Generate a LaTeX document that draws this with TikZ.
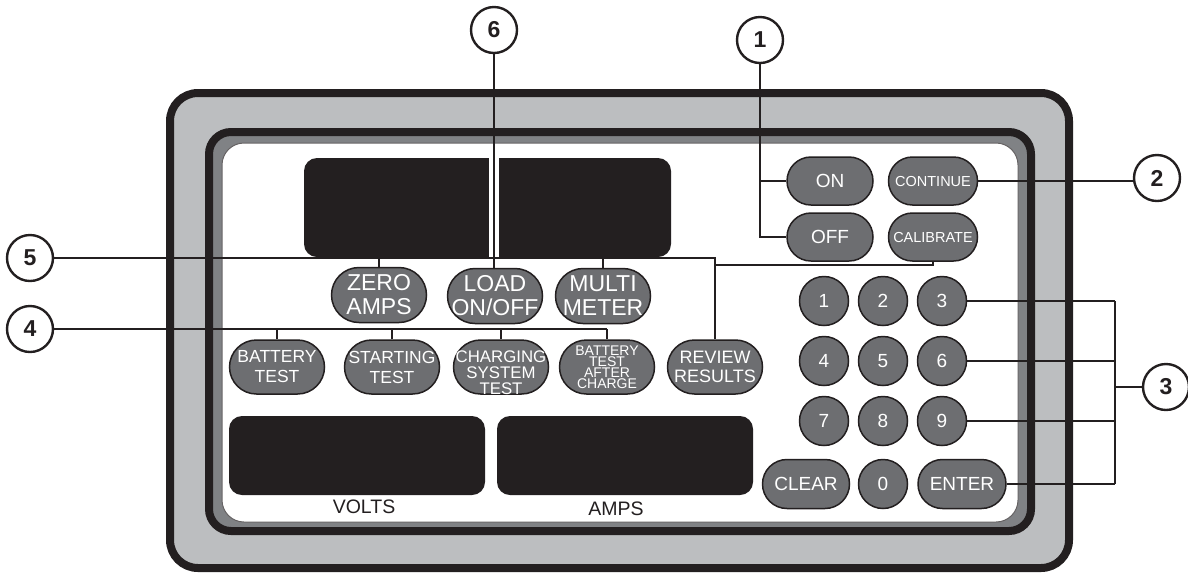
\documentclass[tikz,border=0pt]{standalone}
\usepackage{fontspec}
\setmainfont{Liberation Sans}
\definecolor{ink}{HTML}{231F20}
\definecolor{lightgray}{HTML}{BCBEC0}
\definecolor{bandgray}{HTML}{808285}
\definecolor{btngray}{HTML}{6D6E71}
\begin{document}
\begin{tikzpicture}[x=0.5pt,y=-0.5pt,
  btnbase/.style={draw=ink, line width=0.75pt, fill=btngray, text=white, inner sep=0pt, align=center},
  bigbtn/.style={btnbase, rounded corners=13.75pt, minimum width=47.5pt, minimum height=27.5pt, font=\fontsize{11.5}{12}\selectfont},
  midbtn/.style={btnbase, rounded corners=13.5pt, minimum width=47.5pt, minimum height=27pt},
  smallbtn/.style={btnbase, rounded corners=12pt, minimum width=43pt, minimum height=24pt},
  keybtn/.style={btnbase, circle, minimum size=24.5pt, font=\fontsize{9.5}{10}\selectfont},
  wkeybtn/.style={btnbase, rounded corners=12.25pt, minimum width=44pt, minimum height=24.5pt, font=\fontsize{9.5}{10}\selectfont},
  callout/.style={draw=ink, line width=1.2pt, fill=white, circle, minimum size=23pt, inner sep=0pt, font=\bfseries\fontsize{11.5}{12}\selectfont, text=ink},
  conn/.style={draw=ink, line width=1pt},
  dlabel/.style={text=ink, inner sep=0pt, font=\fontsize{9.75}{10}\selectfont}
]
\useasboundingbox (0,0) rectangle (1188,575);

% frame
\draw[line width=4pt, draw=ink, fill=lightgray, rounded corners=14pt] (170,93) rectangle (1069,568);
\draw[line width=4pt, draw=ink, fill=bandgray, rounded corners=11pt] (209,132) rectangle (1031,531);
\draw[line width=0.5pt, draw=ink!70, fill=white, rounded corners=11pt] (222,143) rectangle (1018,522);

% displays
\fill[ink, rounded corners=6.5pt] (304,158) rectangle (671,257);
\fill[white] (489,156) rectangle (499,258);
\fill[ink, rounded corners=6.5pt] (229,416) rectangle (485,495);
\fill[ink, rounded corners=6.5pt] (497,416) rectangle (753,495);
\node[dlabel] (volts) at (364,507) {VOLTS};
\node[dlabel] (amps) at (616,509) {AMPS};

% buttons
\node[bigbtn] (zero) at (379,295) {ZERO\\AMPS};
\node[bigbtn] (load) at (495,296) {LOAD\\ON/OFF};
\node[bigbtn] (multi) at (603,296) {MULTI\\METER};

\node[midbtn, font=\fontsize{8.75}{10}\selectfont] (batt) at (277,367) {BATTERY\\TEST};
\node[midbtn, font=\fontsize{8.75}{10}\selectfont] (start) at (392,367) {STARTING\\TEST};
\node[midbtn, font=\fontsize{8.4}{7}\selectfont] (charg) at (501,367) {\raisebox{-3.75pt}[\height][\depth]{\begin{tabular}{@{}c@{}}CHARGING\\SYSTEM\\TEST\end{tabular}}};
\node[midbtn, font=\fontsize{7}{5.5}\selectfont] (bta) at (607,367) {BATTERY\\TEST\\AFTER\\CHARGE};
\node[midbtn, font=\fontsize{9}{9.5}\selectfont] (review) at (715,367) {REVIEW\\RESULTS};

\node[smallbtn, font=\fontsize{9.5}{10}\selectfont] (on) at (830,181) {ON};
\node[smallbtn, font=\fontsize{9.5}{10}\selectfont] (off) at (830,237) {OFF};
\node[smallbtn, minimum width=44.5pt, font=\fontsize{7.25}{8}\selectfont] (cont) at (933,181) {CONTINUE};
\node[smallbtn, minimum width=44.5pt, font=\fontsize{7.25}{8}\selectfont] (calib) at (933,237) {CALIBRATE};

\node[keybtn] (k1) at (824,301) {1};
\node[keybtn] (k2) at (883,301) {2};
\node[keybtn] (k3) at (942,301) {3};
\node[keybtn] (k4) at (824,361) {4};
\node[keybtn] (k5) at (883,361) {5};
\node[keybtn] (k6) at (942,361) {6};
\node[keybtn] (k7) at (824,421) {7};
\node[keybtn] (k8) at (883,421) {8};
\node[keybtn] (k9) at (942,421) {9};
\node[wkeybtn, minimum width=43.5pt] (clear) at (806,484) {CLEAR};
\node[keybtn] (k0) at (883,484) {0};
\node[wkeybtn] (enter) at (962,484) {ENTER};

% callouts
\node[callout] (c6) at (494,30) {6};
\node[callout] (c1) at (760,40) {1};
\node[callout] (c2) at (1157,178) {2};
\node[callout] (c3) at (1166,387) {3};
\node[callout] (c5) at (30,258) {5};
\node[callout] (c4) at (30,329) {4};

\coordinate (b3) at (1115,387);
\coordinate (j5) at (715,265);

% connectors
\draw[conn] (c6.south) -- (c6.south |- load.north);
\draw[conn] (c1.south) -- (c1.south |- off.west) -- (off.west);
\draw[conn] (c1.south |- on.west) -- (on.west);
\draw[conn] (cont.east) -- (cont.east -| c2.west);
\draw[conn] (k3.east) -- (k3.east -| b3);
\draw[conn] (k6.east) -- (k6.east -| b3);
\draw[conn] (k9.east) -- (k9.east -| b3);
\draw[conn] (enter.east) -- (enter.east -| b3);
\draw[conn] (k3.east -| b3) -- (enter.east -| b3);
\draw[conn] (b3) -- (c3.west);
\draw[conn] (c5.east) -- (c5.east -| review.north) -- (review.north);
\draw[conn] (zero.north) -- (zero.north |- c5.east);
\draw[conn] (multi.north) -- (multi.north |- c5.east);
\draw[conn] (calib.south) -- (calib.south |- j5) -- (j5);
\draw[conn] (c4.east) -- (c4.east -| bta.north);
\draw[conn] (batt.north) -- (batt.north |- c4.east);
\draw[conn] (start.north) -- (start.north |- c4.east);
\draw[conn] (charg.north) -- (charg.north |- c4.east);
\draw[conn] (bta.north) -- (bta.north |- c4.east);
\end{tikzpicture}
\end{document}
